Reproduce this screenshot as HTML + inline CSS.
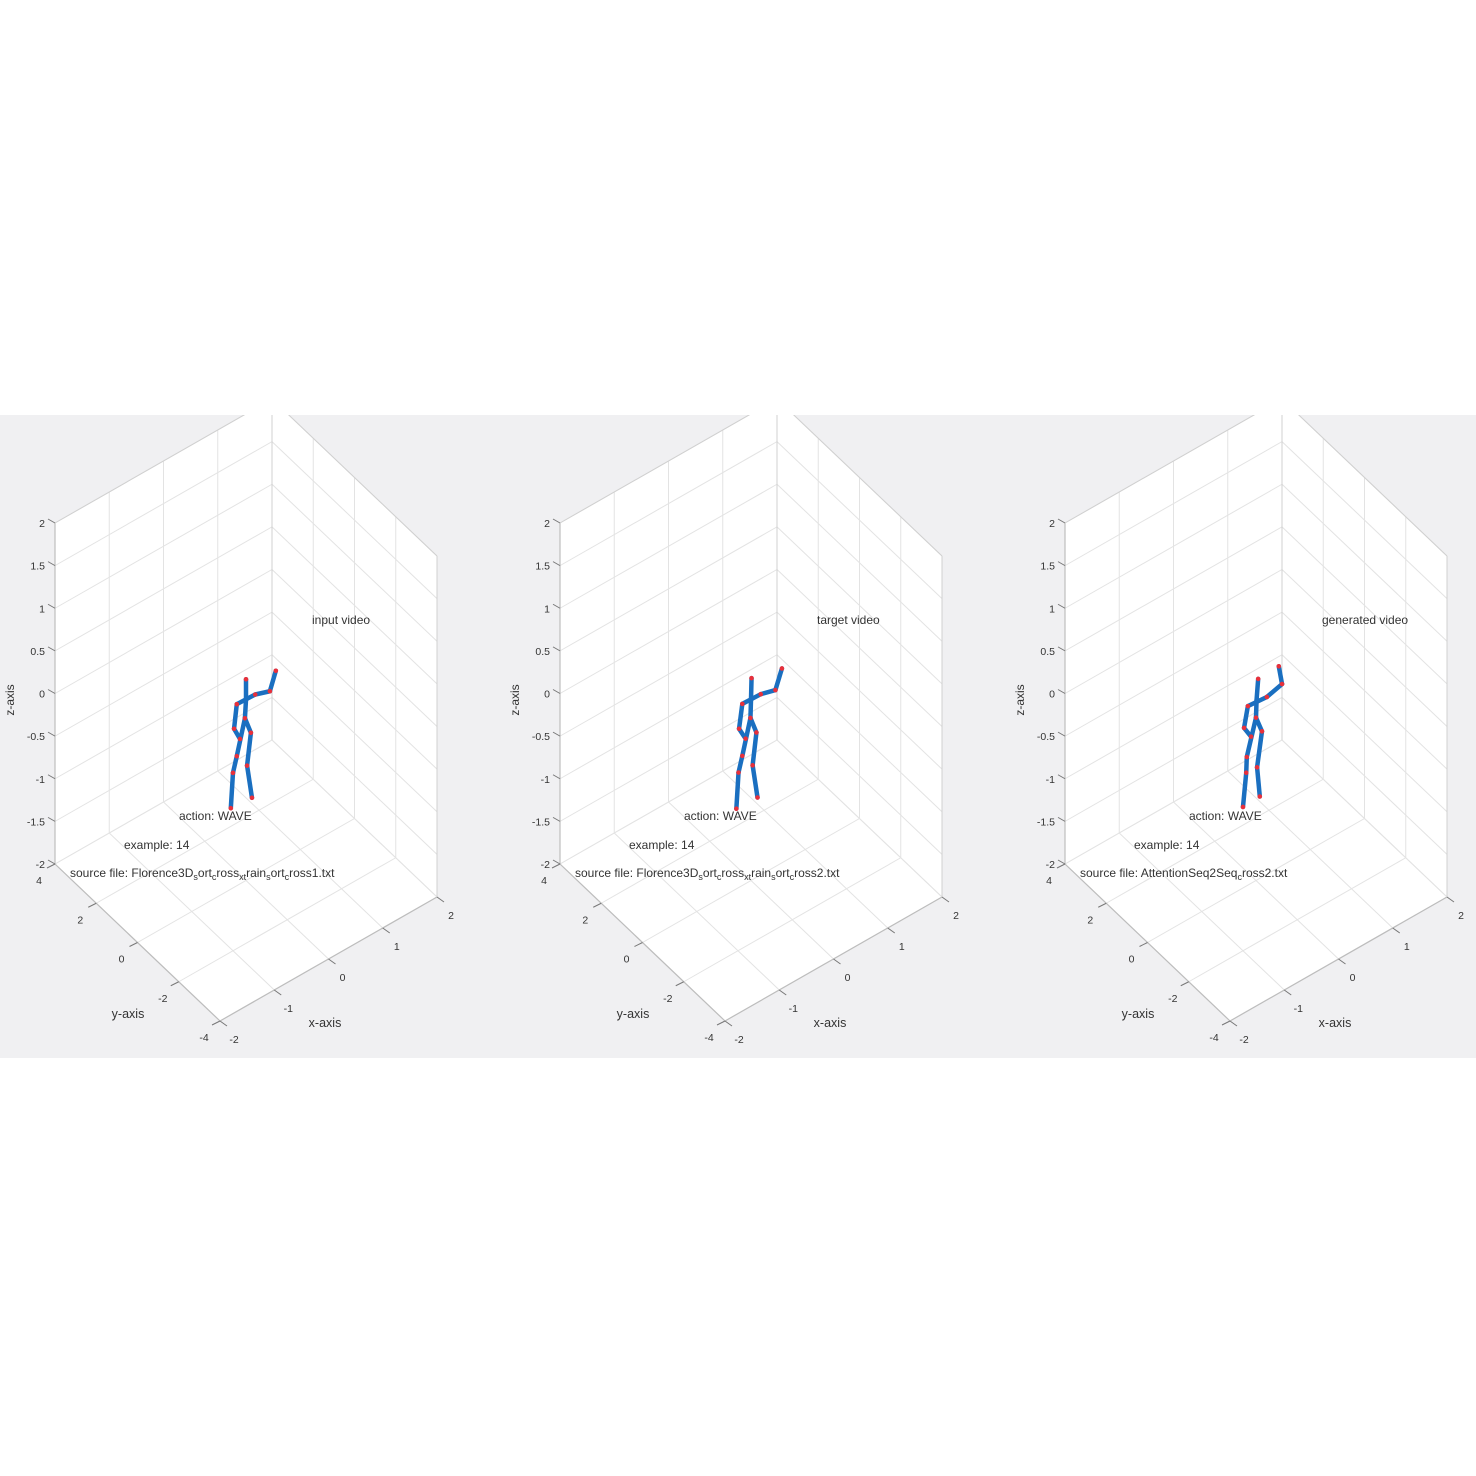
<!DOCTYPE html>
<html><head><meta charset="utf-8"><style>
html,body{margin:0;padding:0;background:#fff;}
svg{display:block;font-family:"Liberation Sans",sans-serif;}
</style></head><body>
<svg id="fig" width="1476" height="1476" viewBox="0 0 1476 1476" xmlns="http://www.w3.org/2000/svg">
<defs><clipPath id="band"><rect x="0" y="415" width="1476" height="643"/></clipPath></defs>
<rect x="0" y="0" width="1476" height="1476" fill="#ffffff"/>
<rect x="0" y="415" width="1476" height="643" fill="#f0f0f2"/>
<g id="root" clip-path="url(#band)"></g>
</svg>
<script>
const panelOffsets = [0, 505, 1010];
const panelTitles = ["input video", "target video", "generated video"];
const sourceFiles = [
  ["Florence3D", "s", "ort", "c", "ross", "xt", "rain", "s", "ort", "c", "ross1.txt"],
  ["Florence3D", "s", "ort", "c", "ross", "xt", "rain", "s", "ort", "c", "ross2.txt"],
  ["AttentionSeq2Seq", "c", "ross2.txt"]
];
const zTicks = [-2, -1.5, -1, -0.5, 0, 0.5, 1, 1.5, 2];
const yTicks = [-4, -2, 0, 2, 4];
const xTicks = [-2, -1, 0, 1, 2];
// joints: head, neck, lShoulder, lElbow, lHand, rShoulder, rElbow, rHand, hip, hipL, kneeL, footL, hipR, kneeR, footR
const jointX1 = [0.00, 0.00, -0.17, -0.22, -0.11, 0.17, 0.44, 0.55, -0.02, 0.09, 0.02, 0.11, -0.17, -0.24, -0.28];
const jointZ1 = [0.36, 0.12, 0.13, -0.14, -0.30, 0.12, 0.06, 0.26, -0.09, -0.30, -0.66, -1.07, -0.48, -0.65, -1.05];
const jointX2 = [0.01, 0.00, -0.16, -0.22, -0.10, 0.18, 0.45, 0.57, -0.01, 0.10, 0.03, 0.12, -0.16, -0.23, -0.27];
const jointZ2 = [0.37, 0.12, 0.13, -0.14, -0.30, 0.12, 0.07, 0.28, -0.09, -0.30, -0.66, -1.07, -0.48, -0.65, -1.06];
const jointX3 = [0.04, 0.01, -0.15, -0.22, -0.09, 0.20, 0.48, 0.42, 0.00, 0.11, 0.02, 0.07, -0.17, -0.18, -0.24];
const jointZ3 = [0.35, 0.11, 0.10, -0.13, -0.28, 0.08, 0.13, 0.36, -0.09, -0.29, -0.68, -1.04, -0.49, -0.67, -1.05];
const boneFrom = [0, 1, 2, 5, 6, 2, 3, 8, 9, 10, 8, 12, 13];
const boneTo   = [1, 8, 5, 6, 7, 3, 4, 9, 10, 11, 12, 13, 14];

const NS = "http://www.w3.org/2000/svg";
const root = document.getElementById("root");
function mk(tag, attrs, parent) {
  const e = document.createElementNS(NS, tag);
  for (const k in attrs) e.setAttribute(k, attrs[k]);
  parent.appendChild(e);
  return e;
}
function proj(off, x, y, z) {
  const sx = 220 + off + (x + 2) / 4 * 217 + (y + 4) / 8 * (-165);
  const sy = 1021 + (x + 2) / 4 * (-124) + (y + 4) / 8 * (-157) + (z + 2) / 4 * (-341);
  return [sx, sy];
}
function line(g, a, b, col, w) {
  return mk("line", {x1: a[0], y1: a[1], x2: b[0], y2: b[1], stroke: col, "stroke-width": w}, g);
}
function text(g, x, y, s, anchor, size) {
  const t = mk("text", {x: x, y: y, "font-size": size || 11, fill: "#333", "text-anchor": anchor || "start"}, g);
  t.textContent = s;
  return t;
}
const jointsX = [jointX1, jointX2, jointX3];
const jointsZ = [jointZ1, jointZ2, jointZ3];

panelOffsets.forEach((off, pi) => {
  const g = mk("g", {}, root);
  
  
  const P = (x, y, z) => proj(off, x, y, z);
  const hex = [P(-2,4,2), P(2,4,2), P(2,-4,2), P(2,-4,-2), P(-2,-4,-2), P(-2,4,-2)];
  const bg = mk("polygon", {points: hex.map(p => p.join(",")).join(" "), fill: "#ffffff"}, g);
  
  
  const grid = mk("g", {}, g);
  
  
  const gc = "#e3e3e3";
  zTicks.forEach(z => { line(grid, P(-2,4,z), P(2,4,z), gc, 1); line(grid, P(2,4,z), P(2,-4,z), gc, 1); });
  xTicks.forEach(x => { line(grid, P(x,4,-2), P(x,4,2), gc, 1); line(grid, P(x,-4,-2), P(x,4,-2), gc, 1); });
  yTicks.forEach(y => { line(grid, P(2,y,-2), P(2,y,2), gc, 1); line(grid, P(-2,y,-2), P(2,y,-2), gc, 1); });
  const ax = mk("g", {}, g);
  
  
  const ec = "#bdbdbd";
  line(ax, P(-2,4,-2), P(-2,4,2), ec, 1.2);
  line(ax, P(-2,4,-2), P(-2,-4,-2), ec, 1.2);
  line(ax, P(-2,-4,-2), P(2,-4,-2), ec, 1.2);
  line(ax, P(2,-4,-2), P(2,-4,2), "#d0d0d0", 1);
  line(ax, P(-2,4,2), P(2,4,2), "#d0d0d0", 1);
  line(ax, P(2,4,2), P(2,-4,2), "#d0d0d0", 1);
  line(ax, P(2,4,-2), P(2,4,2), "#d0d0d0", 1);
  zTicks.forEach(z => {
    const p = P(-2,4,z);
    line(ax, p, [p[0]-7, p[1]-4], "#777", 1);
    const t = text(ax, p[0]-10, p[1]+4, String(z), "end", 10.5);
    
    
  });
  yTicks.forEach(y => {
    const p = P(-2,y,-2);
    line(ax, p, [p[0]-8, p[1]+4], "#777", 1);
    const t = text(ax, p[0]-16, p[1]+20, String(y), "middle", 10.5);
    
    
  });
  xTicks.forEach(x => {
    const p = P(x,-4,-2);
    line(ax, p, [p[0]+7, p[1]+5], "#777", 1);
    const t = text(ax, p[0]+14, p[1]+22, String(x), "middle", 10.5);
    
    
  });
  const zl = text(g, 0, 0, "z-axis", "middle", 12);
  zl.setAttribute("transform", "translate(" + (off + 14) + ",700) rotate(-90)");
  
  
  const yl = text(g, off + 128, 1018, "y-axis", "middle", 12.5);
  
  
  const xl = text(g, off + 325, 1027, "x-axis", "middle", 12.5);
  
  
  const sk = mk("g", {}, g);
  
  
  const jx = jointsX[pi], jz = jointsZ[pi];
  const pts = jx.map((x, i) => P(x, 0, jz[i]));
  boneFrom.forEach((a, i) => {
    const l = line(sk, pts[a], pts[boneTo[i]], "#1a6fc0", 4.5);
    l.setAttribute("stroke-linecap", "round");
    
    
  });
  pts.forEach((p, i) => {
    if (i === 1) return;
    const c = mk("circle", {cx: p[0], cy: p[1], r: 2.3, fill: "#e8303a"}, sk);
    
    
  });
  const tt = text(g, off + 312, 624, panelTitles[pi], "start", 12);
  
  
  const ac = text(g, off + 179, 820, "action: WAVE", "start", 12);
  
  
  const ex = text(g, off + 124, 849, "example: 14", "start", 12);
  
  
  const sf = text(g, off + 70, 877, "source file: ", "start", 12);
  
  
  const parts = sourceFiles[pi];
  parts.forEach((s, i) => {
    const ts = mk("tspan", {}, sf);
    if (i % 2 === 1) { ts.setAttribute("font-size", "9"); ts.setAttribute("dy", "3"); }
    else if (i > 0) { ts.setAttribute("dy", "-3"); }
    ts.textContent = s;
  });
});
</script>
</body></html>
